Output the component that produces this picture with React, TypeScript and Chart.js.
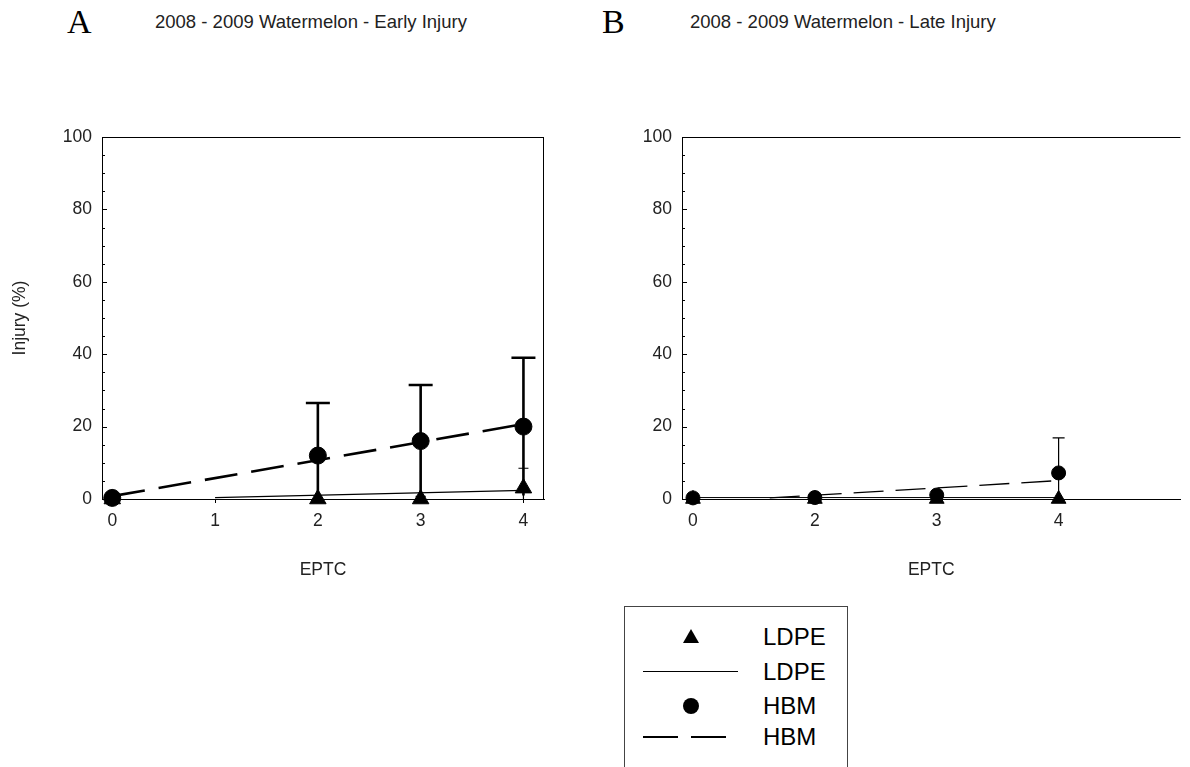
import React, { useEffect, useRef } from 'react';
import { Chart, registerables } from 'chart.js';

Chart.register(...registerables);

// ---------- Panel A : Early injury ----------
const xA = [0, 2, 3, 4];
const ldpeA = [0, 0, 0, 3];
const ldpeErrA = [0, 0, 0.7, 5.5];
const hbmA = [0.3, 12, 16, 20];
const hbmErrA = [0, 14.5, 15.5, 19];
const ldpeFitXA = [1, 4];
const ldpeFitYA = [0.4, 2.4];
const hbmFitXA = [0, 4];
const hbmFitYA = [0.8, 20.7];
const xTicksA = [0, 1, 2, 3, 4];

// ---------- Panel B : Late injury (categories equally spaced) ----------
const xLabelsB = ['0', '2', '3', '4'];
const xB = [0, 1, 2, 3];
const ldpeB = [0, 0, 0, 0];
const hbmB = [0.3, 0.4, 1.1, 7.2];
const hbmErrB = [0, 0, 0, 9.7];
const ldpeFitXB = [0, 3];
const ldpeFitYB = [0.4, 0.4];
const hbmFitXB = [0.63, 3];
const hbmFitYB = [0.3, 5.1];

const yTicks = [0, 20, 40, 60, 80, 100];
const yMinorStep = 5;

const FONT = '"Liberation Sans", Arial, sans-serif';
const TXT = '#222';
const TICK_SIZE = 17.5;

const decoPlugin = {
  id: 'deco',
  beforeDatasetsDraw(chart: any, _a: any, opts: any) {
    const { ctx, chartArea: a } = chart;
    const x = chart.scales.x;
    const y = chart.scales.y;
    ctx.save();
    ctx.strokeStyle = '#000';
    ctx.lineWidth = 1;
    ctx.beginPath();
    ctx.moveTo(a.left, a.top + 0.5);
    ctx.lineTo(a.right, a.top + 0.5);
    if (opts.rightBorder) {
      ctx.moveTo(a.right - 0.5, a.top);
      ctx.lineTo(a.right - 0.5, a.bottom);
    }
    const top = yTicks[yTicks.length - 1];
    for (let v = yTicks[0]; v <= top; v += yMinorStep) {
      const py = Math.round(y.getPixelForValue(v)) + 0.5;
      const len = yTicks.includes(v) ? 5 : 3;
      ctx.moveTo(a.left, py);
      ctx.lineTo(a.left + len, py);
    }
    ctx.stroke();

    ctx.beginPath();
    ctx.rect(a.left, a.top, a.right - a.left, a.bottom - a.top);
    ctx.clip();
    for (const s of opts.bars) {
      ctx.lineWidth = s.lineWidth;
      s.x.forEach((xv: number, i: number) => {
        const e = s.err[i];
        if (!e) return;
        const px = x.getPixelForValue(xv);
        const pt = y.getPixelForValue(s.mean[i] + e);
        const pb = y.getPixelForValue(s.mean[i] - e);
        ctx.beginPath();
        ctx.moveTo(px, pb);
        ctx.lineTo(px, pt);
        ctx.moveTo(px - s.cap / 2, pt);
        ctx.lineTo(px + s.cap / 2, pt);
        ctx.stroke();
      });
    }
    ctx.restore();
  },
};

const pts = (xs: number[], ys: number[]) => xs.map((v, i) => ({ x: v, y: ys[i] }));

function makeConfig(p: any) {
  return {
    type: 'scatter',
    data: {
      datasets: [
        {
          label: 'LDPE',
          data: pts(p.x, p.ldpe),
          pointStyle: 'triangle',
          pointRadius: p.rTri,
          backgroundColor: '#000',
          borderColor: '#000',
          showLine: false,
          clip: false,
        },
        {
          label: 'HBM',
          data: pts(p.x, p.hbm),
          pointStyle: 'circle',
          pointRadius: p.rCirc,
          backgroundColor: '#000',
          borderColor: '#000',
          showLine: false,
          clip: false,
        },
        {
          label: 'LDPE fit',
          data: pts(p.ldpeFitX, p.ldpeFitY),
          showLine: true,
          pointRadius: 0,
          borderColor: '#000',
          borderWidth: p.thinW,
        },
        {
          label: 'HBM fit',
          data: pts(p.hbmFitX, p.hbmFitY),
          showLine: true,
          pointRadius: 0,
          borderColor: '#000',
          borderWidth: p.dashW,
          borderDash: p.dash,
        },
      ],
    },
    options: {
      animation: false,
      responsive: false,
      devicePixelRatio: 1,
      layout: { padding: { top: 137, right: p.padRight, left: 0, bottom: 0 } },
      plugins: {
        legend: { display: false },
        tooltip: { enabled: false },
        deco: { rightBorder: p.rightBorder, bars: p.bars },
      },
      scales: {
        x: {
          type: 'linear',
          min: p.xMin,
          max: p.xMax,
          afterBuildTicks: (s: any) => {
            s.ticks = p.xTicks.map((v: number) => ({ value: v }));
          },
          afterFit: (s: any) => {
            s.height = 82;
          },
          ticks: {
            color: TXT,
            font: { family: FONT, size: TICK_SIZE },
            padding: 8,
            maxRotation: 0,
            autoSkip: false,
            callback: p.xLabel,
          },
          grid: { drawOnChartArea: false, drawTicks: true, tickLength: 4, color: '#000' },
          border: { display: true, color: '#000', width: 1 },
          title: {
            display: true,
            text: 'EPTC',
            color: TXT,
            font: { family: FONT, size: TICK_SIZE },
            padding: { top: 0, bottom: 0 },
          },
        },
        y: {
          type: 'linear',
          min: 0,
          max: 100,
          afterBuildTicks: (s: any) => {
            s.ticks = yTicks.map((v) => ({ value: v }));
          },
          afterFit: (s: any) => {
            s.width = 102;
          },
          ticks: { color: TXT, font: { family: FONT, size: TICK_SIZE }, padding: 10 },
          grid: { drawOnChartArea: false, drawTicks: false },
          border: { display: true, color: '#000', width: 1 },
          title: {
            display: p.yTitle,
            text: 'Injury (%)',
            color: TXT,
            font: { family: FONT, size: TICK_SIZE },
            padding: { top: 10, bottom: 0 },
          },
        },
      },
    },
    plugins: [decoPlugin],
  } as any;
}

const cfgA = () =>
  makeConfig({
    x: xA,
    ldpe: ldpeA,
    hbm: hbmA,
    ldpeFitX: ldpeFitXA,
    ldpeFitY: ldpeFitYA,
    hbmFitX: hbmFitXA,
    hbmFitY: hbmFitYA,
    rTri: 9.5,
    rCirc: 8.5,
    thinW: 1.3,
    dashW: 2.6,
    dash: [33, 14],
    padRight: 16,
    rightBorder: true,
    xMin: -0.1,
    xMax: 4.2,
    xTicks: xTicksA,
    xLabel: (v: number) => String(v),
    yTitle: true,
    bars: [
      { x: xA, mean: hbmA, err: hbmErrA, cap: 24, lineWidth: 2.6 },
      { x: xA, mean: ldpeA, err: ldpeErrA, cap: 10, lineWidth: 1.2 },
    ],
  });

const cfgB = () =>
  makeConfig({
    x: xB,
    ldpe: ldpeB,
    hbm: hbmB,
    ldpeFitX: ldpeFitXB,
    ldpeFitY: ldpeFitYB,
    hbmFitX: hbmFitXB,
    hbmFitY: hbmFitYB,
    rTri: 8.5,
    rCirc: 7,
    thinW: 1,
    dashW: 1.3,
    dash: [30, 12],
    padRight: 0,
    rightBorder: false,
    xMin: -0.09,
    xMax: 4.0,
    xTicks: xB,
    xLabel: (v: number) => xLabelsB[Math.round(v)],
    yTitle: false,
    bars: [{ x: xB, mean: hbmB, err: hbmErrB, cap: 12, lineWidth: 1.2 }],
  });

const abs = (o: any): React.CSSProperties => ({ position: 'absolute', ...o });

export default function App() {
  const refA = useRef<HTMLCanvasElement>(null);
  const refB = useRef<HTMLCanvasElement>(null);

  useEffect(() => {
    const a = new Chart(refA.current as HTMLCanvasElement, cfgA());
    const b = new Chart(refB.current as HTMLCanvasElement, cfgB());
    return () => {
      a.destroy();
      b.destroy();
    };
  }, []);

  const letter: React.CSSProperties = {
    fontFamily: '"Liberation Serif", "Times New Roman", serif',
    fontSize: 34,
    lineHeight: '34px',
    color: '#000',
  };
  const title: React.CSSProperties = {
    fontFamily: FONT,
    fontSize: 18.5,
    lineHeight: '18px',
    color: TXT,
    whiteSpace: 'nowrap',
  };
  const legText: React.CSSProperties = {
    fontFamily: FONT,
    fontSize: 24,
    lineHeight: '24px',
    color: '#000',
  };

  return (
    <div style={{ position: 'fixed', left: 0, top: 0, width: 1190, height: 767, overflow: 'hidden', background: '#fff' }}>
      <div style={abs({ left: 67, top: 5, ...letter })}>A</div>
      <div style={abs({ left: 155, top: 13, ...title })}>2008 - 2009 Watermelon - Early Injury</div>
      <div style={abs({ left: 602, top: 5, ...letter })}>B</div>
      <div style={abs({ left: 690, top: 13, ...title })}>2008 - 2009 Watermelon - Late Injury</div>

      <canvas ref={refA} width={560} height={581} style={abs({ left: 0, top: 0, width: 560, height: 581 })} />
      <canvas ref={refB} width={610} height={581} style={abs({ left: 580, top: 0, width: 610, height: 581 })} />

      <div style={abs({ left: 624, top: 606, width: 222, height: 180, border: '1px solid #444', background: '#fff' })}>
        <div style={abs({ left: 58, top: 22, width: 0, height: 0, borderLeft: '8px solid transparent', borderRight: '8px solid transparent', borderBottom: '14px solid #000' })} />
        <div style={abs({ left: 138, top: 18, ...legText })}>LDPE</div>
        <div style={abs({ left: 18, top: 64, width: 95, height: 0, borderTop: '1px solid #000' })} />
        <div style={abs({ left: 138, top: 53, ...legText })}>LDPE</div>
        <div style={abs({ left: 58, top: 91, width: 16, height: 16, borderRadius: '50%', background: '#000' })} />
        <div style={abs({ left: 138, top: 87, ...legText })}>HBM</div>
        <div style={abs({ left: 18, top: 129, width: 35, height: 0, borderTop: '2px solid #000' })} />
        <div style={abs({ left: 66, top: 129, width: 35, height: 0, borderTop: '2px solid #000' })} />
        <div style={abs({ left: 138, top: 118, ...legText })}>HBM</div>
      </div>
    </div>
  );
}
